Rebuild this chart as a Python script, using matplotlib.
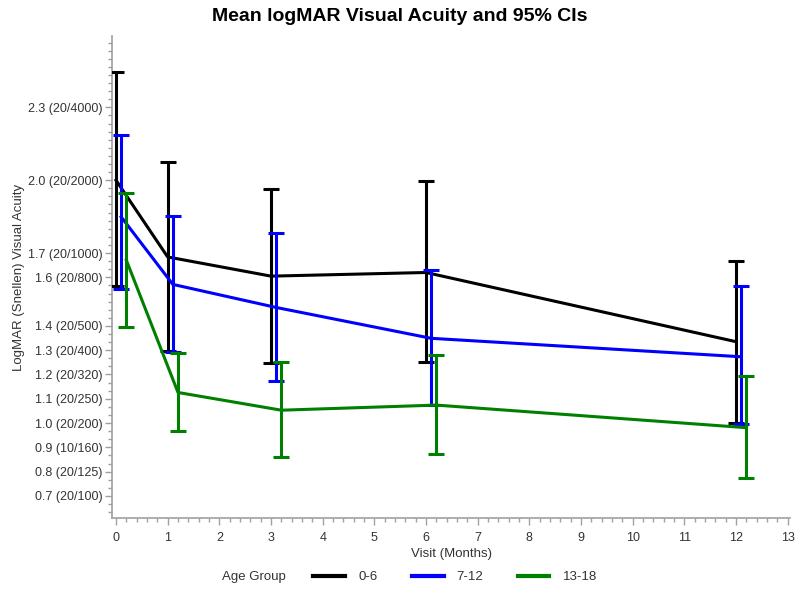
import matplotlib
matplotlib.use("Agg")
import matplotlib.pyplot as plt
from matplotlib.lines import Line2D
from matplotlib.ticker import MultipleLocator
import numpy as np

plt.rcParams["font.family"] = ["Liberation Sans", "DejaVu Sans"]

# visit months and estimated means / 95% CI bounds (logMAR)
months = [0, 1, 3, 6, 12]
groups = ["0-6", "7-12", "13-18"]
colors = ["black", "blue", "green"]
offsets = [0.0, 0.1, 0.2]

mean_06 = [2.00, 1.684, 1.605, 1.620, 1.335]
upper_06 = [2.444, 2.075, 1.962, 1.997, 1.667]
lower_06 = [1.564, 1.296, 1.248, 1.252, 1.001]

mean_712 = [1.849, 1.571, 1.476, 1.349, 1.273]
upper_712 = [2.188, 1.853, 1.783, 1.630, 1.565]
lower_712 = [1.553, 1.293, 1.173, 1.074, 0.995]

mean_1318 = [1.671, 1.126, 1.053, 1.074, 0.981]
upper_1318 = [1.949, 1.289, 1.250, 1.280, 1.195]
lower_1318 = [1.396, 0.967, 0.859, 0.871, 0.775]

ytick_vals = [0.7, 0.8, 0.9, 1.0, 1.1, 1.2, 1.3, 1.4, 1.6, 1.7, 2.0, 2.3]
ytick_labels = ["0.7 (20/100)", "0.8 (20/125)", "0.9 (10/160)", "1.0 (20/200)",
                "1.1 (20/250)", "1.2 (20/320)", "1.3 (20/400)", "1.4 (20/500)",
                "1.6 (20/800)", "1.7 (20/1000)", "2.0 (20/2000)", "2.3 (20/4000)"]

means = [mean_06, mean_712, mean_1318]
uppers = [upper_06, upper_712, upper_1318]
lowers = [lower_06, lower_712, lower_1318]

fig = plt.figure(figsize=(8, 6.03), dpi=100)
ax = fig.add_axes([0.14, 0.1405, 0.848, 0.7995])

for m, up, lo, c, off in zip(means, uppers, lowers, colors, offsets):
    x = np.array(months) + off
    m = np.array(m)
    yerr = [m - np.array(lo), np.array(up) - m]
    ax.plot(x, m, color=c, lw=2.2, zorder=3)
    ax.errorbar(x, m, yerr=yerr, fmt="none", ecolor=c, elinewidth=2.2,
                capsize=6, capthick=2.2, zorder=3)

ax.set_xlim(-0.077, 13.05)
ax.set_ylim(0.608, 2.593)
ax.set_xticks(range(0, 14))
ax.xaxis.set_minor_locator(MultipleLocator(0.2))
ax.set_yticks(ytick_vals)
ax.set_yticklabels(ytick_labels)
ax.yaxis.set_minor_locator(MultipleLocator(0.1 / 3))

for side in ["top", "right"]:
    ax.spines[side].set_visible(False)
for side in ["left", "bottom"]:
    ax.spines[side].set_color("#a0a0a0")
    ax.spines[side].set_linewidth(1.2)

ax.tick_params(which="major", length=5, width=1, color="#a0a0a0",
               labelsize=9, labelcolor="#333333", pad=2)
ax.tick_params(which="minor", length=3, width=1, color="#a0a0a0")
ax.tick_params(axis="x", which="major", pad=5)

ax.set_xlabel("Visit (Months)", fontsize=9.5, color="#333333", labelpad=3)
ax.set_ylabel("LogMAR (Snellen) Visual Acuity", fontsize=9.5, color="#333333", labelpad=2)

fig.suptitle("Mean logMAR Visual Acuity and 95% CIs", fontsize=14,
             fontweight="bold", y=0.986)

fig.text(0.278, 0.043, "Age Group", fontsize=9.5, color="#333333", va="center")
handles = [Line2D([], [], color=c, lw=3) for c in colors]
fig.legend(handles, groups, loc="center left", bbox_to_anchor=(0.377, 0.043),
           ncol=3, frameon=False, fontsize=9.5, handlelength=2.4,
           columnspacing=2.6, handletextpad=1.0, labelcolor="#333333")

fig.savefig("out.png", dpi=100)
